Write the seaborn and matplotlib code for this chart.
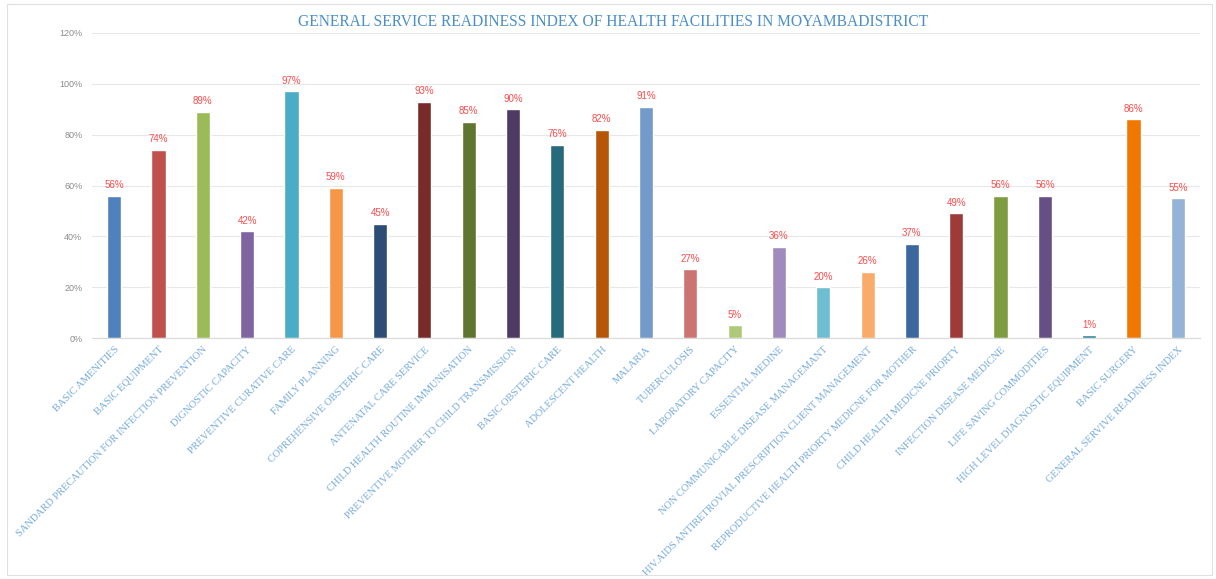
import matplotlib
matplotlib.use("Agg")
import matplotlib.pyplot as plt
import seaborn as sns
import pandas as pd
from matplotlib.patches import Rectangle

categories = [
    "BASIC AMENITIES",
    "BASIC EQUIPMENT",
    "SANDARD PRECAUTION FOR INFECTION PREVENTION",
    "DIGNOSTIC CAPACITY",
    "PREVENTIVE CURATIVE CARE",
    "FAMILY PLANNING",
    "COPREHENSIVE OBSTERIC CARE",
    "ANTENATAL CARE SERVICE",
    "CHILD HEALTH ROUTINE IMMUNISATION",
    "PREVENTIVE MOTHER TO CHILD TRANSMISSION",
    "BASIC OBSTERIC CARE",
    "ADOLESCENT HEALTH",
    "MALARIA",
    "TUBERCULOSIS",
    "LABORATORY CAPACITY",
    "ESSENTIAL MEDINE",
    "NON COMMUNICABLE DISEASE MANAGEMANT",
    "HIV.AIDS ANTIRETROVIAL PRESCRIPTION CLIENT MANAGEMENT",
    "REPRODUCTIVE HEALTH PRIORTY MEDICNE FOR MOTHER",
    "CHILD HEALTH MEDICNE PRIORTY",
    "INFECTION DISEASE MEDICNE",
    "LIFE SAVING COMMODITIES",
    "HIGH LEVEL DIAGNOSTIC EQUIPMENT",
    "BASIC SURGERY",
    "GENERAL SERVIVE READINESS INDEX",
]
values = [56, 74, 89, 42, 97, 59, 45, 93, 85, 90, 76, 82, 91,
          27, 5, 36, 20, 26, 37, 49, 56, 56, 1, 86, 55]
yticks = [0, 20, 40, 60, 80, 100, 120]
ytick_labels = ["0%", "20%", "40%", "60%", "80%", "100%", "120%"]
title = "GENERAL SERVICE READINESS INDEX OF HEALTH FACILITIES IN MOYAMBADISTRICT"

colors = ["#4F81BD", "#C0504D", "#9BBB59", "#8064A2", "#4BACC6", "#F79646",
          "#2C4D75", "#772C2A", "#5F7530", "#4D3B62", "#276A7C", "#B65708",
          "#729ACA", "#CD7371", "#AFC97A", "#A18BBC", "#6FBDD1", "#F9AB6B",
          "#3A679C", "#9E3B38", "#7E9D40", "#664F82", "#31859C", "#F07800",
          "#95B3D7"]

df = pd.DataFrame({"cat": categories, "val": values})

sns.set_theme(style="white")
plt.rcParams["font.family"] = ["Liberation Sans", "DejaVu Sans"]

fig = plt.figure(figsize=(12.16, 5.79), dpi=100)
ax = fig.add_axes([92 / 1216, 1 - 338 / 579, (1200 - 92) / 1216, (338 - 33) / 579])

sns.barplot(data=df, x="cat", y="val", hue="cat", palette=colors,
            width=0.32, legend=False, dodge=False, ax=ax, saturation=1)

for c in ax.containers:
    ax.bar_label(c, fmt="%d%%", padding=4, color="#FF4B4B",
                 fontsize=7)

ax.set_ylim(0, 120)
ax.set_xlim(-0.5, len(categories) - 0.5)
ax.set_yticks(yticks)
ax.set_yticklabels(ytick_labels, color="#8C8C8C", fontsize=6.5)
ax.tick_params(axis="y", length=0, pad=7)
ax.tick_params(axis="x", length=0, pad=5)
ax.set_xticks(range(len(categories)))
ax.set_xticklabels(categories, rotation=45, ha="right", va="top",
                   rotation_mode="anchor", fontsize=7.5,
                   family="Liberation Serif", color="#5B9BD5")
for lab in ax.get_xticklabels():
    lab.set_alpha(0.85)
ax.set_xlabel("")
ax.set_ylabel("")
ax.yaxis.grid(True, color="#E8E8E8", linewidth=0.8)
ax.set_axisbelow(True)
for s in ["top", "right", "left"]:
    ax.spines[s].set_visible(False)
ax.spines["bottom"].set_color("#D9D9D9")
ax.spines["bottom"].set_linewidth(0.8)

fig.text(613 / 1216, 1 - 22 / 579, title, ha="center", va="center",
         family="Liberation Serif", fontsize=11.2, color="#4A8FC9")

fig.patches.append(Rectangle((7 / 1216, 4 / 579), (1212 - 7) / 1216, (575 - 4) / 579,
                             transform=fig.transFigure, fill=False,
                             edgecolor="#E0E0E0", linewidth=0.8))

fig.savefig("out.png", dpi=100)
